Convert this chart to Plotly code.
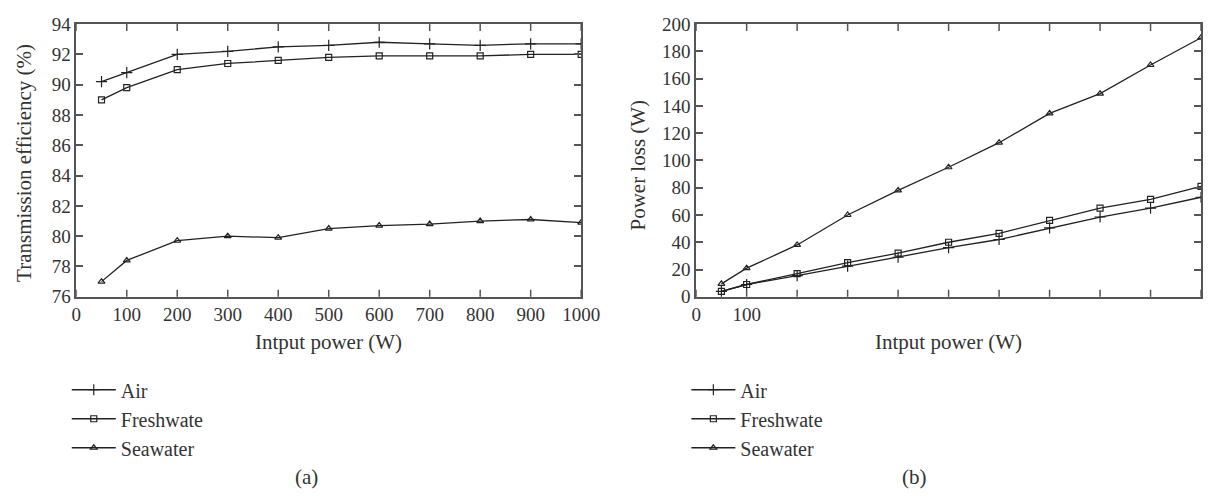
import plotly.graph_objects as go

# ---------------- data ----------------
power = [50, 100, 200, 300, 400, 500, 600, 700, 800, 900, 1000]

eff_air = [90.2, 90.8, 92.0, 92.2, 92.5, 92.6, 92.8, 92.7, 92.6, 92.7, 92.7]
eff_fresh = [89.0, 89.8, 91.0, 91.4, 91.6, 91.8, 91.9, 91.9, 91.9, 92.0, 92.0]
eff_sea = [77.0, 78.4, 79.7, 80.0, 79.9, 80.5, 80.7, 80.8, 81.0, 81.1, 80.9]

loss_air = [4.0, 9.0, 15.5, 22.5, 29.0, 36.0, 42.0, 50.5, 58.5, 65.0, 73.0]
loss_fresh = [4.0, 9.0, 17.0, 25.0, 32.0, 40.0, 46.5, 56.0, 65.0, 71.5, 81.0]
loss_sea = [9.5, 21.0, 38.0, 60.0, 78.0, 95.0, 113.0, 134.5, 149.0, 170.0, 190.0]

series_names = ["Air", "Freshwate", "Seawater"]

xa_ticks = [0, 100, 200, 300, 400, 500, 600, 700, 800, 900, 1000]
xa_text = ["0", "100", "200", "300", "400", "500", "600", "700", "800", "900", "1000"]
xb_ticks = [0, 100, 200, 300, 400, 500, 600, 700, 800, 900, 1000]
xb_text = ["0", "100", "", "", "", "", "", "", "", "", ""]
ya_ticks = [76, 78, 80, 82, 84, 86, 88, 90, 92, 94]
yb_ticks = [0, 20, 40, 60, 80, 100, 120, 140, 160, 180, 200]

# ---------------- styling ----------------
W, H = 1222, 502
FONT = "Liberation Serif"
TXT = "#333333"
LINE = "#222222"
AX = "#555555"
TICKLEN = 7
symbols = ["cross-thin-open", "square-open", "triangle-up-open"]
msize = [8, 6, 6]


def px_x(p):
    return p / W


def px_y(p):
    return 1 - p / H


dom_xa = [px_x(72.7), px_x(587.7)]
dom_xb = [px_x(705), px_x(1220)]
dom_y = [px_y(299.3), px_y(14.7)]

fig = go.Figure()

for i, (name, ya) in enumerate(zip(series_names, [eff_air, eff_fresh, eff_sea])):
    fig.add_trace(go.Scatter(
        x=power, y=ya, name=name, mode="lines+markers",
        xaxis="x", yaxis="y", legend="legend",
        line=dict(color=LINE, width=1.3),
        marker=dict(symbol=symbols[i], size=msize[i], color=LINE,
                    line=dict(color=LINE, width=1.2)),
    ))

for i, (name, yb) in enumerate(zip(series_names, [loss_air, loss_fresh, loss_sea])):
    fig.add_trace(go.Scatter(
        x=power, y=yb, name=name, mode="lines+markers",
        xaxis="x2", yaxis="y2", legend="legend2",
        line=dict(color=LINE, width=1.3),
        marker=dict(symbol=symbols[i], size=msize[i], color=LINE,
                    line=dict(color=LINE, width=1.2)),
    ))

tickfont = dict(family=FONT, size=19, color=TXT)
main_x = dict(showgrid=False, zeroline=False, showline=True, linecolor=AX,
              linewidth=1.5, mirror=True, ticks="", tickfont=tickfont)
common_y = dict(showgrid=False, zeroline=False, showline=True, linecolor=AX,
                linewidth=1.5, mirror="allticks", tickfont=tickfont,
                ticksuffix="\u2004", ticks="inside", ticklen=TICKLEN,
                tickcolor=AX, tickwidth=1.5)

fig.update_layout(
    width=W, height=H,
    margin=dict(l=0, r=0, t=0, b=0),
    paper_bgcolor="white", plot_bgcolor="white",
    font=dict(family=FONT, size=21, color=TXT),
    xaxis=dict(domain=dom_xa, range=[0, 1000], tickvals=xa_ticks,
               ticktext=xa_text, anchor="y", **main_x),
    yaxis=dict(domain=dom_y, range=[76, 94], tickvals=ya_ticks, anchor="x",
               **common_y),
    xaxis2=dict(domain=dom_xb, range=[0, 1000], tickvals=xb_ticks,
                ticktext=xb_text, anchor="y2", **main_x),
    yaxis2=dict(domain=dom_y, range=[0, 200], tickvals=yb_ticks, anchor="x2",
                **common_y),
    showlegend=True,
    legend=dict(x=px_x(63), y=px_y(376), xanchor="left", yanchor="top",
                font=dict(family=FONT, size=20, color=TXT),
                bgcolor="rgba(0,0,0,0)", itemwidth=44, traceorder="normal"),
    legend2=dict(x=px_x(695), y=px_y(376), xanchor="left", yanchor="top",
                 font=dict(family=FONT, size=20, color=TXT),
                 bgcolor="rgba(0,0,0,0)", itemwidth=44, traceorder="normal"),
)

# inward tick marks on the bottom and top edges, placed at the x tick values through the axis scale
for xref, yref, vals in [("x", "y domain", xa_ticks), ("x2", "y2 domain", xb_ticks)]:
    for v in vals:
        for anchor, sign in [(0, 1), (1, -1)]:
            fig.add_shape(type="line", xref=xref, yref=yref,
                          x0=v, x1=v, ysizemode="pixel", yanchor=anchor,
                          y0=0, y1=sign * TICKLEN, layer="above",
                          line=dict(color=AX, width=1.5))

annots = [
    dict(text="Intput power (W)", x=px_x(330), y=px_y(347)),
    dict(text="Intput power (W)", x=px_x(962), y=px_y(347)),
    dict(text="(a)", x=px_x(308), y=px_y(487)),
    dict(text="(b)", x=px_x(928), y=px_y(487)),
    dict(text="Transmission efficiency (%)", x=px_x(20), y=px_y(160), textangle=-90),
    dict(text="Power loss (W)", x=px_x(646), y=px_y(162), textangle=-90),
]
for a in annots:
    fig.add_annotation(xref="paper", yref="paper", showarrow=False,
                       xanchor="center", yanchor="middle",
                       font=dict(family=FONT, size=21, color=TXT), **a)

fig.write_html("out.html")
